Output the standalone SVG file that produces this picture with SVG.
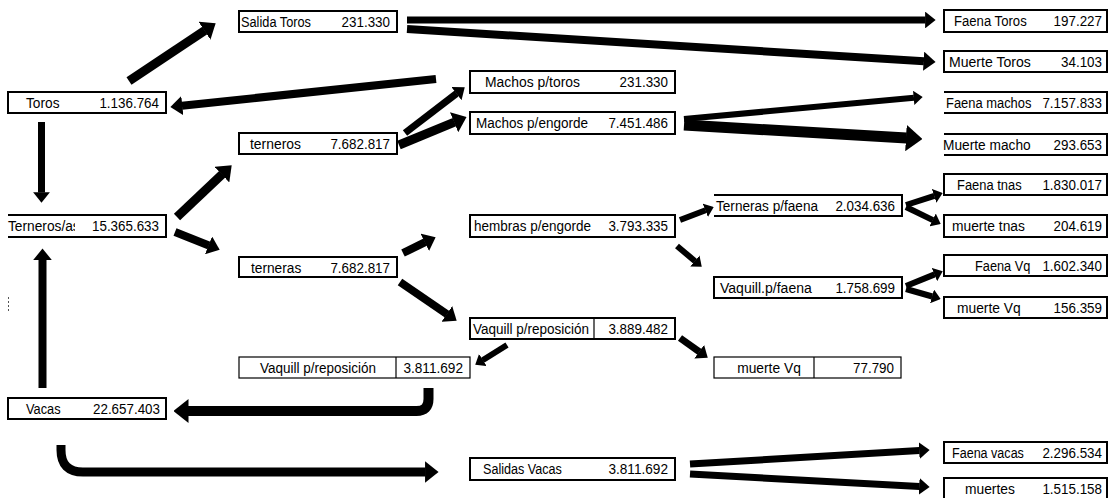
<svg xmlns="http://www.w3.org/2000/svg" width="1112" height="498" viewBox="0 0 1112 498">
<style>
.box{fill:#fff;stroke:#000;stroke-width:2}
.thin{fill:#fff;stroke:#000;stroke-width:1.2}
.t{font-family:"Liberation Sans",Arial,sans-serif;font-size:15.5px;fill:#000}
.n{text-anchor:end}
.m{text-anchor:middle}
.ar{fill:none;stroke:#000;stroke-linecap:butt;marker-end:url(#ah)}
</style>
<defs>
<marker id="ah" viewBox="0 0 15 24" refX="0.5" refY="12" markerWidth="1.5" markerHeight="2.4" orient="auto"><path d="M0,0 L15,12 L0,24 z" fill="#000"/></marker>
<clipPath id="cT"><rect x="6" y="212" width="69" height="28"/></clipPath>
<clipPath id="cM"><rect x="938" y="132" width="93" height="26"/></clipPath>
</defs>
<rect width="1112" height="498" fill="#fff"/>

<g id="connectors">
<path class="ar" stroke-width="9" d="M129,81 L204.8,30.5"/>
<path class="ar" stroke-width="8" d="M436,79 L181.9,105.7"/>
<path class="ar" stroke-width="7" d="M41.5,122 L41.5,192.5"/>
<path class="ar" stroke-width="8" d="M42.5,388 L42.5,260"/>
<path class="ar" stroke-width="9" d="M177,217 L222.2,174.3"/>
<path class="ar" stroke-width="8" d="M175,232 L208.9,245.5"/>
<path class="ar" stroke-width="7" d="M405,133 L456.7,93.4"/>
<path class="ar" stroke-width="9" d="M399,145 L454.5,122.1"/>
<path class="ar" stroke-width="7" d="M407,20 L925.5,20"/>
<path class="ar" stroke-width="8" d="M407,29 L924,61.25"/>
<path class="ar" stroke-width="6" d="M684,119 L914,97.8"/>
<path class="ar" stroke-width="11" d="M684,125 L906.5,138"/>
<path class="ar" stroke-width="8" d="M403,253 L425.2,242.2"/>
<path class="ar" stroke-width="8" d="M400,282 L447.1,314.2"/>
<path class="ar" stroke-width="6" d="M680,220 L705.6,210.2"/>
<path class="ar" stroke-width="6" d="M677,246 L695.1,261.2"/>
<path class="ar" stroke-width="6" d="M906,205 L934.4,195.8"/>
<path class="ar" stroke-width="6" d="M906,207 L932.9,220.1"/>
<path class="ar" stroke-width="6" d="M906,286 L934.7,274.4"/>
<path class="ar" stroke-width="6" d="M906,289 L932.3,296.5"/>
<path class="ar" stroke-width="6" d="M507,345 L482.6,360.2"/>
<path class="ar" stroke-width="7" d="M680,338 L699.5,351.9"/>
<path class="ar" stroke-width="10" d="M428.5,388 V399 Q428.5,411 416.5,411 H188"/>
<path class="ar" stroke-width="9" d="M61,445 V450 Q61,472 83,472 H425.5"/>
<path class="ar" stroke-width="7" d="M690,464 L919.5,450.6"/>
<path class="ar" stroke-width="7" d="M690,474 L919.5,486.4"/>
</g>

<g id="toros"><rect class="box" x="8" y="92" width="158" height="21"/><text class="t" x="26" y="108" textLength="33.5" lengthAdjust="spacingAndGlyphs">Toros</text><text class="t n" x="159" y="108" textLength="59.6" lengthAdjust="spacingAndGlyphs">1.136.764</text></g>
<g id="terneros-as"><path class="box" d="M8,215 H166 V237 H8"/><text class="t" x="8" y="231" clip-path="url(#cT)" textLength="71.7" lengthAdjust="spacingAndGlyphs">Terneros/as</text><text class="t n" x="159" y="231" textLength="67" lengthAdjust="spacingAndGlyphs">15.365.633</text></g>
<g id="vacas"><rect class="box" x="8" y="398" width="158" height="21"/><text class="t" x="26" y="414" textLength="34.6" lengthAdjust="spacingAndGlyphs">Vacas</text><text class="t n" x="160" y="414" textLength="67" lengthAdjust="spacingAndGlyphs">22.657.403</text></g>

<g id="salida-toros"><rect class="box" x="239" y="11" width="158" height="21"/><text class="t" x="241" y="27" textLength="70" lengthAdjust="spacingAndGlyphs">Salida Toros</text><text class="t n" x="390" y="27" textLength="48.4" lengthAdjust="spacingAndGlyphs">231.330</text></g>
<g id="terneros"><rect class="box" x="239" y="133" width="158" height="21"/><text class="t" x="250" y="149" textLength="51" lengthAdjust="spacingAndGlyphs">terneros</text><text class="t n" x="390" y="149" textLength="59.6" lengthAdjust="spacingAndGlyphs">7.682.817</text></g>
<g id="terneras"><rect class="box" x="239" y="257" width="158" height="20"/><text class="t" x="251" y="273" textLength="50.3" lengthAdjust="spacingAndGlyphs">terneras</text><text class="t n" x="390" y="273" textLength="59.6" lengthAdjust="spacingAndGlyphs">7.682.817</text></g>
<g id="vaquill-repos-2"><rect class="thin" x="239" y="357" width="231" height="21"/><line class="thin" x1="396" y1="357" x2="396" y2="378"/><text class="t m" x="318" y="373" textLength="116" lengthAdjust="spacingAndGlyphs">Vaquill p/reposición</text><text class="t n" x="463" y="373" textLength="59.6" lengthAdjust="spacingAndGlyphs">3.811.692</text></g>

<g id="machos-toros"><rect class="box" x="470" y="71" width="205" height="22"/><text class="t" x="485" y="87" textLength="95" lengthAdjust="spacingAndGlyphs">Machos p/toros</text><text class="t n" x="668" y="87" textLength="48.4" lengthAdjust="spacingAndGlyphs">231.330</text></g>
<g id="machos-engorde"><rect class="box" x="470" y="112" width="205" height="22"/><text class="t" x="476" y="128" textLength="112" lengthAdjust="spacingAndGlyphs">Machos p/engorde</text><text class="t n" x="668" y="128" textLength="59.6" lengthAdjust="spacingAndGlyphs">7.451.486</text></g>
<g id="hembras-engorde"><rect class="box" x="470" y="215" width="205" height="22"/><text class="t" x="474" y="231" textLength="117" lengthAdjust="spacingAndGlyphs">hembras p/engorde</text><text class="t n" x="668" y="231" textLength="59.6" lengthAdjust="spacingAndGlyphs">3.793.335</text></g>
<g id="vaquill-repos-1"><rect class="box" x="470" y="318" width="205" height="21" stroke-width="1.5"/><line class="thin" x1="594" y1="318" x2="594" y2="339"/><text class="t" x="473" y="334" textLength="116" lengthAdjust="spacingAndGlyphs">Vaquill p/reposición</text><text class="t n" x="668" y="334" textLength="59.6" lengthAdjust="spacingAndGlyphs">3.889.482</text></g>
<g id="salidas-vacas"><rect class="box" x="470" y="458" width="205" height="22"/><text class="t" x="483" y="474" textLength="78.9" lengthAdjust="spacingAndGlyphs">Salidas Vacas</text><text class="t n" x="668" y="474" textLength="59.6" lengthAdjust="spacingAndGlyphs">3.811.692</text></g>

<g id="terneras-faena"><path class="box" d="M714,195 H902 V216 H714"/><text class="t" x="716" y="211" textLength="102" lengthAdjust="spacingAndGlyphs">Terneras p/faena</text><text class="t n" x="895" y="211" textLength="59.6" lengthAdjust="spacingAndGlyphs">2.034.636</text></g>
<g id="vaquill-faena"><rect class="box" x="714" y="277" width="188" height="21"/><text class="t" x="720" y="293" textLength="91.8" lengthAdjust="spacingAndGlyphs">Vaquill.p/faena</text><text class="t n" x="895" y="293" textLength="59.6" lengthAdjust="spacingAndGlyphs">1.758.699</text></g>
<g id="muerte-vq-1"><rect class="thin" x="714" y="357" width="187" height="21"/><line class="thin" x1="814" y1="357" x2="814" y2="378"/><text class="t m" x="769" y="373" textLength="63.7" lengthAdjust="spacingAndGlyphs">muerte Vq</text><text class="t n" x="894" y="373" textLength="41" lengthAdjust="spacingAndGlyphs">77.790</text></g>

<g id="faena-toros"><rect class="box" x="944" y="10" width="163" height="22"/><text class="t" x="954" y="26" textLength="72.7" lengthAdjust="spacingAndGlyphs">Faena Toros</text><text class="t n" x="1102" y="26" textLength="48.4" lengthAdjust="spacingAndGlyphs">197.227</text></g>
<g id="muerte-toros"><rect class="box" x="944" y="51" width="163" height="21"/><text class="t" x="949" y="67" textLength="81.8" lengthAdjust="spacingAndGlyphs">Muerte Toros</text><text class="t n" x="1102" y="67" textLength="41" lengthAdjust="spacingAndGlyphs">34.103</text></g>
<g id="faena-machos"><path class="box" d="M944,92 H1107 V113 H944"/><text class="t" x="946" y="108" textLength="85.4" lengthAdjust="spacingAndGlyphs">Faena machos</text><text class="t n" x="1102" y="108" textLength="59.6" lengthAdjust="spacingAndGlyphs">7.157.833</text></g>
<g id="muerte-machos"><path class="box" d="M944,134 H1107 V155 H944"/><text class="t" x="943" y="150" clip-path="url(#cM)" textLength="94.5" lengthAdjust="spacingAndGlyphs">Muerte machos</text><text class="t n" x="1102" y="150" textLength="48.4" lengthAdjust="spacingAndGlyphs">293.653</text></g>
<g id="faena-tnas"><rect class="box" x="944" y="174" width="163" height="21"/><text class="t" x="957" y="190" textLength="64.6" lengthAdjust="spacingAndGlyphs">Faena tnas</text><text class="t n" x="1102" y="190" textLength="59.6" lengthAdjust="spacingAndGlyphs">1.830.017</text></g>
<g id="muerte-tnas"><rect class="box" x="944" y="215" width="163" height="22"/><text class="t" x="952" y="231" textLength="72.9" lengthAdjust="spacingAndGlyphs">muerte tnas</text><text class="t n" x="1102" y="231" textLength="48.4" lengthAdjust="spacingAndGlyphs">204.619</text></g>
<g id="faena-vq"><rect class="box" x="944" y="255" width="163" height="21"/><text class="t" x="975" y="271" textLength="55.4" lengthAdjust="spacingAndGlyphs">Faena Vq</text><text class="t n" x="1102" y="271" textLength="59.6" lengthAdjust="spacingAndGlyphs">1.602.340</text></g>
<g id="muerte-vq-2"><rect class="box" x="944" y="297" width="163" height="21"/><text class="t" x="957" y="313" textLength="63.7" lengthAdjust="spacingAndGlyphs">muerte Vq</text><text class="t n" x="1102" y="313" textLength="48.4" lengthAdjust="spacingAndGlyphs">156.359</text></g>
<g id="faena-vacas"><rect class="box" x="944" y="442" width="163" height="21"/><text class="t" x="952" y="458" textLength="71.9" lengthAdjust="spacingAndGlyphs">Faena vacas</text><text class="t n" x="1102" y="458" textLength="59.6" lengthAdjust="spacingAndGlyphs">2.296.534</text></g>
<g id="muertes"><rect class="box" x="944" y="478" width="163" height="22"/><text class="t" x="965" y="494" textLength="49.9" lengthAdjust="spacingAndGlyphs">muertes</text><text class="t n" x="1102" y="494" textLength="59.6" lengthAdjust="spacingAndGlyphs">1.515.158</text></g>

<line x1="8.5" y1="297" x2="8.5" y2="313" stroke="#555" stroke-width="1" stroke-dasharray="2,2"/>
</svg>
